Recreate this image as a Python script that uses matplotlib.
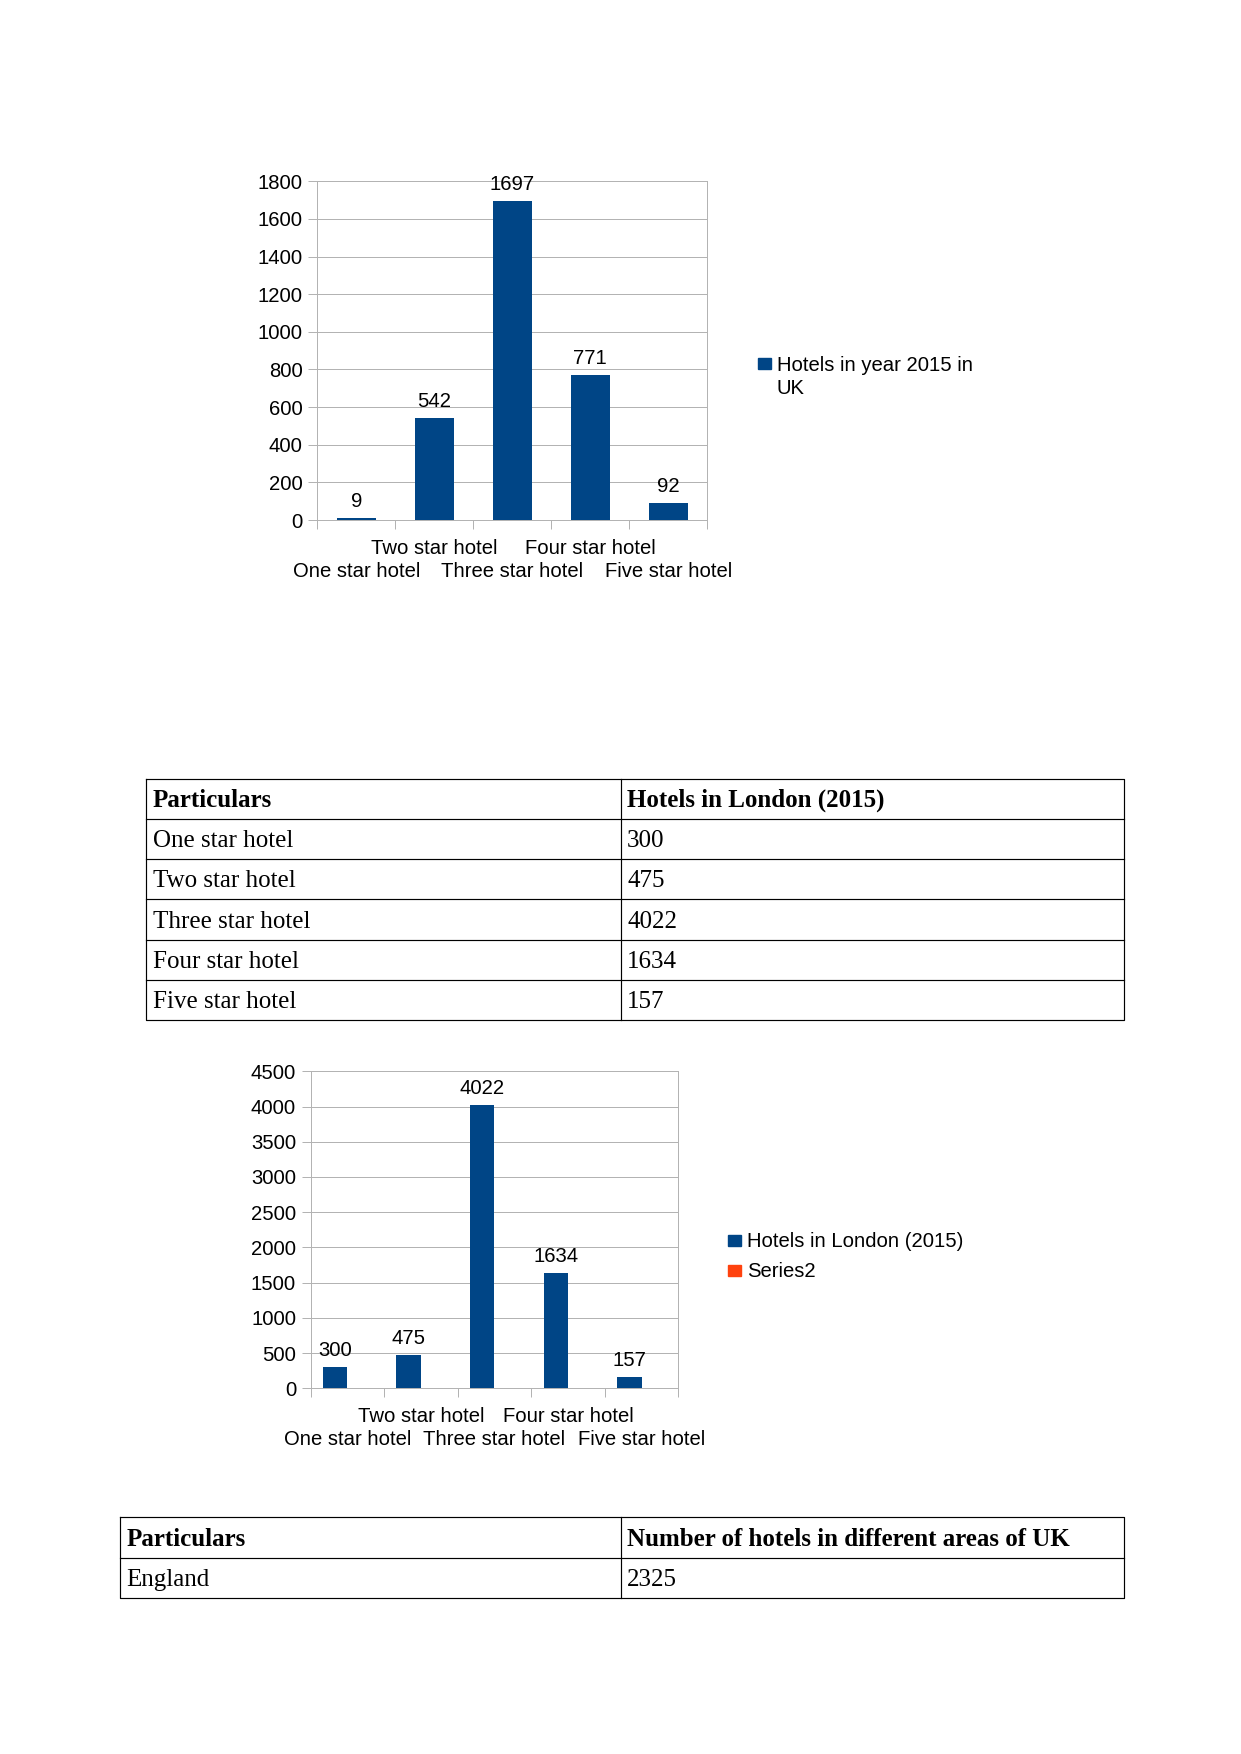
import matplotlib
matplotlib.use('Agg')
import matplotlib.pyplot as plt
from matplotlib.patches import Rectangle
import numpy as np

# ---------------- data ----------------
categories = ["One star hotel", "Two star hotel", "Three star hotel",
              "Four star hotel", "Five star hotel"]
uk_2015 = [9, 542, 1697, 771, 92]
london_2015 = [300, 475, 4022, 1634, 157]
uk_series_lines = ["Hotels in year 2015 in", "UK"]
london_series = "Hotels in London (2015)"
series2_name = "Series2"
uk_yticks = [0, 200, 400, 600, 800, 1000, 1200, 1400, 1600, 1800]
london_yticks = [0, 500, 1000, 1500, 2000, 2500, 3000, 3500, 4000, 4500]
table1_header = ["Particulars", "Hotels in London (2015)"]
table2_header = ["Particulars", "Number of hotels in different areas of UK"]
table2_labels = ["England"]
table2_values = [2325]

# ---------------- setup ----------------
W, H, DPI = 1241, 1754, 100
fig = plt.figure(figsize=(W / DPI, H / DPI), dpi=DPI)
fig.patch.set_facecolor('white')

BLUE = '#004586'
ORANGE = '#ff420e'
GRID = '#b3b3b3'
SANS = 'Liberation Sans'
SERIF = 'Liberation Serif'
FS = 14.6

ov = fig.add_axes([0, 0, 1, 1])
ov.set_xlim(0, W)
ov.set_ylim(H, 0)
ov.axis('off')
ov.patch.set_visible(False)


def px_axes(l, t, r, b):
    return fig.add_axes([l / W, 1 - b / H, (r - l) / W, (b - t) / H])


def chart(ax, values, yticks, offset, width):
    x = np.arange(len(categories))
    bars = ax.bar(x + offset, values, width=width, color=BLUE, zorder=3)
    ax.set_xlim(-0.5, len(categories) - 0.5)
    ax.set_ylim(yticks[0], yticks[-1])
    ax.set_yticks(yticks)
    ax.set_yticklabels([str(v) for v in yticks], fontfamily=SANS, fontsize=FS)
    ax.tick_params(axis='y', length=6.5, width=0.72, color=GRID, pad=4)
    ax.set_xticks(np.arange(-0.5, len(categories)))
    ax.set_xticklabels([])
    ax.tick_params(axis='x', length=6.5, width=0.72, color=GRID)
    ax.grid(axis='y', color=GRID, linewidth=0.72, zorder=0)
    ax.set_axisbelow(True)
    for s in ax.spines.values():
        s.set_color(GRID)
        s.set_linewidth(0.72)
    for i, c in enumerate(categories):
        dy = -24.3 if i % 2 == 1 else -41
        ax.annotate(c, xy=(i, 0), xycoords=('data', 'axes fraction'),
                    xytext=(0, dy), textcoords='offset points',
                    ha='center', va='baseline', fontfamily=SANS, fontsize=FS)
    for b, v in zip(bars, values):
        ax.annotate(str(v), xy=(b.get_x() + b.get_width() / 2, v),
                    xytext=(0, 7.9), textcoords='offset points',
                    ha='center', va='baseline', fontfamily=SANS, fontsize=FS,
                    zorder=5)


# Chart 1
ax1 = px_axes(317.3, 181.3, 707.3, 520)
chart(ax1, uk_2015, uk_yticks, 0.0, 0.5)
ov.add_patch(Rectangle((758, 358), 12.7, 11, color=BLUE))
for k, line in enumerate(uk_series_lines):
    ov.text(776.7, 371 + k * 22.7, line, fontfamily=SANS, fontsize=FS,
            ha='left', va='baseline')

# Chart 2 (two series slots, second series empty)
ax2 = px_axes(310.7, 1071.3, 678.3, 1388.3)
chart(ax2, london_2015, london_yticks, -1 / 6, 1 / 3)
for k, (name, col) in enumerate([(london_series, BLUE), (series2_name, ORANGE)]):
    yc = 1240 + k * 30
    ov.add_patch(Rectangle((728.3, yc - 5.5), 12.4, 11, color=col))
    ov.text(747.3, yc + 7, name, fontfamily=SANS, fontsize=FS,
            ha='left', va='baseline')


# Tables
def table(left, right, top, div, row_h, header, rows):
    n = len(rows) + 1
    bottom = top + n * row_h
    kw = dict(color='black', lw=0.85, solid_capstyle='projecting')
    ov.plot([left, right, right, left, left], [top, top, bottom, bottom, top], **kw)
    for k in range(1, n):
        ov.plot([left, right], [top + k * row_h] * 2, **kw)
    ov.plot([div, div], [top, bottom], **kw)
    for k, row in enumerate([header] + rows):
        yb = top + (k + 0.5) * row_h + 8.0
        weight = 'bold' if k == 0 else 'normal'
        ov.text(left + 7, yb, row[0], fontfamily=SERIF, fontsize=18,
                fontweight=weight, ha='left', va='baseline')
        ov.text(div + 6, yb, row[1], fontfamily=SERIF, fontsize=18,
                fontweight=weight, ha='left', va='baseline')


table(146, 1123.5, 778.5, 621, 40.3, table1_header,
      [[c, str(v)] for c, v in zip(categories, london_2015)])
table(119.7, 1123.5, 1517.4, 621, 40.3, table2_header,
      [[c, str(v)] for c, v in zip(table2_labels, table2_values)])

fig.savefig('out.png', dpi=DPI, facecolor='white')
